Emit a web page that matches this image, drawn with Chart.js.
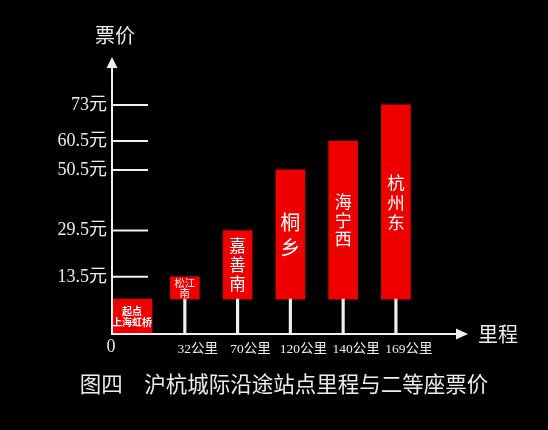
<!DOCTYPE html>
<html>
<head>
<meta charset="utf-8">
<script src="https://cdn.jsdelivr.net/npm/chart.js@4.4.0/dist/chart.umd.min.js"></script>
<style>
html,body{margin:0;padding:0;background:#000;}
canvas{display:block;}
</style>
</head>
<body>
<canvas id="c" width="548" height="430"></canvas>
<script>
// ---- data ----
const stations   = ['上海虹桥', '松江南', '嘉善南', '桐乡', '海宁西', '杭州东'];
const distances  = [0, 32, 70, 120, 140, 169];          // km
const prices     = [0, 13.5, 29.5, 50.5, 60.5, 73];     // 元
const priceTicks = [13.5, 29.5, 50.5, 60.5, 73];
const distUnit   = '公里';
const priceUnit  = '元';
const startTag   = '起点';
const yAxisTitle = '票价';
const xAxisTitle = '里程';
const caption    = '图四　沪杭城际沿途站点里程与二等座票价';

// ---- style ----
const RED  = '#ee0000';
const AXIS = '#f0f0f0';
const TEXT = '#ececec';
const FONT = "'Liberation Serif', 'Noto Sans CJK SC', serif";
const CJK  = "'Noto Sans CJK SC', sans-serif";
const Y_MIN = -6.3, Y_MAX = 89.6;     // value range of the price axis
const X_MIN = -0.38, X_MAX = 6.366;   // station-slot range of the distance axis
const PLATFORM = 5.8;                 // level the station boxes stand on
const boxFont = [
  {size: 10,   weight: 'bold',   lh: 11},
  {size: 10.5, weight: 'normal', lh: 10.5},
  {size: 16.5, weight: 'normal', lh: 19},
  {size: 20,   weight: 'normal', lh: 25},
  {size: 17,   weight: 'normal', lh: 18.5},
  {size: 17.5, weight: 'normal', lh: 20}
];

const slots = stations.map((_, i) => i);
function boxLines(i) {
  if (i === 0) return [startTag, stations[0]];
  if (i === 1) return [stations[1].slice(0, 2), stations[1].slice(2)];
  return Array.from(stations[i]);
}

const decor = {
  id: 'decor',
  afterDatasetsDraw(chart) {
    const ctx = chart.ctx;
    ctx.save();
    ctx.fillStyle = '#ffffff';
    ctx.textAlign = 'center';
    ctx.textBaseline = 'middle';
    [1, 2].forEach(di => {
      chart.getDatasetMeta(di).data.forEach((el, k) => {
        const i = di === 1 ? 0 : k + 1;
        const p = el.getProps(['x', 'y', 'base'], true);
        const f = boxFont[i];
        const lines = boxLines(i);
        const mid = (p.y + p.base) / 2;
        ctx.font = f.weight + ' ' + f.size + 'px ' + CJK;
        lines.forEach((t, j) => {
          ctx.fillText(t, p.x, mid + (j - (lines.length - 1) / 2) * f.lh);
        });
      });
    });
    ctx.restore();
  },
  afterDraw(chart) {
    const ctx = chart.ctx;
    const a = chart.chartArea;
    const ys = chart.scales.y;
    ctx.save();
    ctx.strokeStyle = AXIS;
    ctx.fillStyle = AXIS;
    ctx.lineWidth = 2;
    // y axis
    ctx.beginPath();
    ctx.moveTo(a.left, a.bottom + 1);
    ctx.lineTo(a.left, a.top + 8);
    ctx.stroke();
    ctx.beginPath();
    ctx.moveTo(a.left, a.top);
    ctx.lineTo(a.left - 5.5, a.top + 11);
    ctx.lineTo(a.left + 5.5, a.top + 11);
    ctx.closePath();
    ctx.fill();
    // x axis
    ctx.beginPath();
    ctx.moveTo(a.left - 1, a.bottom);
    ctx.lineTo(a.right - 8, a.bottom);
    ctx.stroke();
    ctx.beginPath();
    ctx.moveTo(a.right, a.bottom);
    ctx.lineTo(a.right - 12, a.bottom - 5.5);
    ctx.lineTo(a.right - 12, a.bottom + 5.5);
    ctx.closePath();
    ctx.fill();
    // price tick bars
    ys.ticks.forEach(t => {
      const y = ys.getPixelForValue(t.value);
      ctx.beginPath();
      ctx.moveTo(a.left, y);
      ctx.lineTo(a.left + 36, y);
      ctx.stroke();
    });
    // texts
    ctx.fillStyle = TEXT;
    ctx.textBaseline = 'middle';
    ctx.textAlign = 'center';
    ctx.font = '20px ' + FONT;
    ctx.fillText(yAxisTitle, a.left + 3, a.top - 19);
    ctx.textAlign = 'left';
    ctx.fillText(xAxisTitle, a.right + 10, a.bottom + 3);
    ctx.textAlign = 'center';
    ctx.font = '18px ' + FONT;
    ctx.fillText(String(distances[0]), a.left - 1, a.bottom + 13);
    ctx.font = '21.5px ' + FONT;
    ctx.fillText(caption, chart.width / 2 + 10, a.bottom + 52);
    ctx.restore();
  }
};

new Chart(document.getElementById('c'), {
  type: 'bar',
  data: {
    datasets: [
      {
        label: 'stem',
        data: slots.slice(1).map(i => ({x: i, y: [Y_MIN, PLATFORM]})),
        backgroundColor: AXIS,
        barThickness: 2.5,
        grouped: false
      },
      {
        label: startTag,
        data: [{x: 0, y: [Y_MIN, PLATFORM]}],
        backgroundColor: RED,
        barThickness: 40,
        grouped: false
      },
      {
        label: '票价',
        data: slots.slice(1).map(i => ({x: i, y: [PLATFORM, prices[i]]})),
        backgroundColor: RED,
        barThickness: 29,
        grouped: false
      }
    ]
  },
  options: {
    responsive: false,
    animation: false,
    devicePixelRatio: 1,
    layout: {padding: {top: 57, right: 80, bottom: 59, left: 0}},
    plugins: {legend: {display: false}, tooltip: {enabled: false}, title: {display: false}},
    scales: {
      x: {
        type: 'linear',
        offset: false,
        min: X_MIN,
        max: X_MAX,
        grid: {display: false, drawTicks: false, offset: false},
        border: {display: false},
        afterBuildTicks: s => { s.ticks = slots.slice(1).map(v => ({value: v})); },
        afterFit: s => { s.height = 37; },
        ticks: {
          autoSkip: false,
          maxRotation: 0,
          padding: 7,
          labelOffset: 13,
          color: TEXT,
          font: {family: FONT, size: 13.5},
          callback: v => distances[v] + distUnit
        }
      },
      y: {
        type: 'linear',
        min: Y_MIN,
        max: Y_MAX,
        grid: {display: false, drawTicks: false},
        border: {display: false},
        afterBuildTicks: s => { s.ticks = priceTicks.map(v => ({value: v})); },
        afterFit: s => { s.width = 112; },
        ticks: {
          autoSkip: false,
          padding: 5,
          color: TEXT,
          font: {family: FONT, size: 18},
          callback: v => v + priceUnit
        }
      }
    }
  },
  plugins: [decor]
});
</script>
</body>
</html>
